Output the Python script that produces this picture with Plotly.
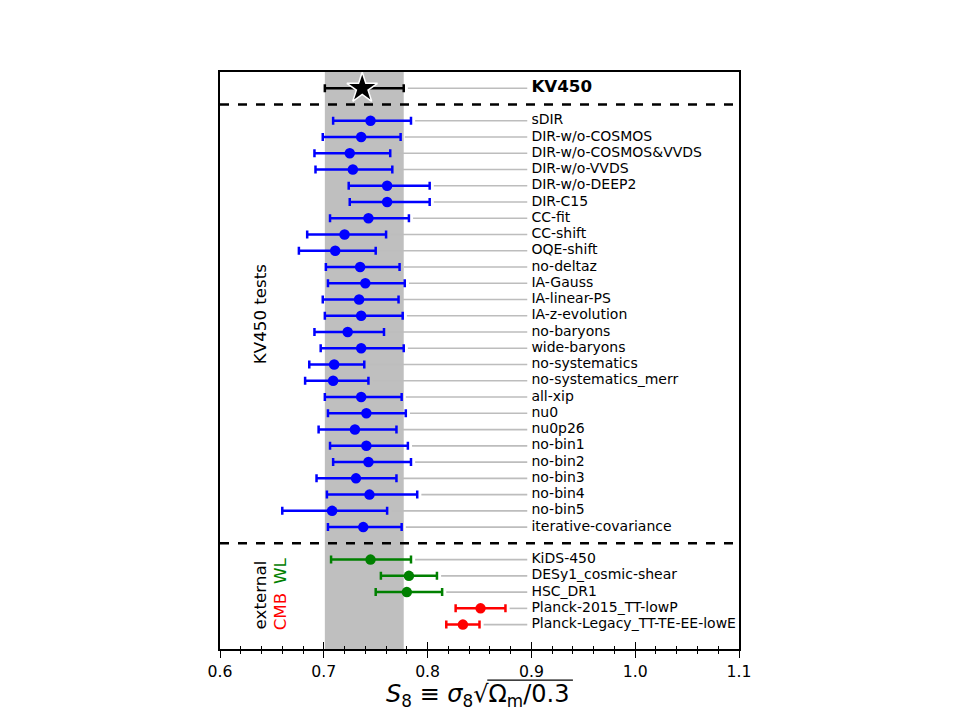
import plotly.graph_objects as go

# ---------------- data ----------------
ref_label = "KV450"
ref_s8 = 0.737
ref_hi = 0.040
ref_lo = 0.036

test_labels = ["sDIR", "DIR-w/o-COSMOS", "DIR-w/o-COSMOS&VVDS", "DIR-w/o-VVDS",
               "DIR-w/o-DEEP2", "DIR-C15", "CC-fit", "CC-shift", "OQE-shift",
               "no-deltaz", "IA-Gauss", "IA-linear-PS", "IA-z-evolution",
               "no-baryons", "wide-baryons", "no-systematics",
               "no-systematics_merr", "all-xip", "nu0", "nu0p26", "no-bin1",
               "no-bin2", "no-bin3", "no-bin4", "no-bin5", "iterative-covariance"]
test_s8 = [0.745, 0.736, 0.725, 0.728, 0.761, 0.761, 0.743, 0.720, 0.711,
           0.735, 0.740, 0.734, 0.736, 0.723, 0.736, 0.710, 0.709, 0.736,
           0.741, 0.730, 0.741, 0.743, 0.731, 0.744, 0.708, 0.738]
test_hi = [0.039, 0.038, 0.039, 0.038, 0.041, 0.041, 0.039, 0.040, 0.039,
           0.038, 0.038, 0.038, 0.040, 0.035, 0.041, 0.029, 0.034, 0.039,
           0.038, 0.040, 0.040, 0.041, 0.039, 0.046, 0.053, 0.037]
test_lo = [0.036, 0.037, 0.034, 0.036, 0.037, 0.036, 0.037, 0.036, 0.035,
           0.033, 0.036, 0.035, 0.035, 0.032, 0.039, 0.024, 0.027, 0.035,
           0.037, 0.035, 0.035, 0.034, 0.038, 0.041, 0.048, 0.034]

ext_labels = ["KiDS-450", "DESy1_cosmic-shear", "HSC_DR1",
              "Planck-2015_TT-lowP", "Planck-Legacy_TT-TE-EE-lowE"]
ext_s8 = [0.745, 0.782, 0.780, 0.851, 0.834]
ext_hi = [0.039, 0.027, 0.034, 0.024, 0.016]
ext_lo = [0.038, 0.027, 0.030, 0.024, 0.016]
ext_colors = ["green", "green", "green", "red", "red"]

# row positions (top to bottom)
ref_y = [0]
test_y = list(range(2, 2 + len(test_labels)))
ext_y = list(range(29, 29 + len(ext_labels)))
sep_y = [1, 28]

label_x = 0.9
line_end = 0.896
gap = 0.004

fig = go.Figure()

# gray connector lines
gx, gy = [], []
for s, h, y in zip([ref_s8] + test_s8 + ext_s8, [ref_hi] + test_hi + ext_hi,
                   ref_y + test_y + ext_y):
    gx += [s + h + gap, line_end, None]
    gy += [y, y, None]
fig.add_trace(go.Scatter(x=gx, y=gy, mode="lines",
                         line=dict(color="#bdbdbd", width=1.6),
                         hoverinfo="skip", showlegend=False))

# KV450
fig.add_trace(go.Scatter(
    x=[ref_s8], y=ref_y, mode="markers",
    marker=dict(symbol="star", size=23, color="black",
                line=dict(color="white", width=1.5)),
    error_x=dict(type="data", array=[ref_hi], arrayminus=[ref_lo],
                 color="black", thickness=2.5, width=4),
    showlegend=False))

# tests
fig.add_trace(go.Scatter(
    x=test_s8, y=test_y, mode="markers",
    marker=dict(symbol="circle", size=10.5, color="blue"),
    error_x=dict(type="data", array=test_hi, arrayminus=test_lo,
                 color="blue", thickness=2.5, width=4),
    showlegend=False))

# external
for s, h, l, y, c in zip(ext_s8, ext_hi, ext_lo, ext_y, ext_colors):
    fig.add_trace(go.Scatter(
        x=[s], y=[y], mode="markers",
        marker=dict(symbol="circle", size=10.5, color=c),
        error_x=dict(type="data", array=[h], arrayminus=[l],
                     color=c, thickness=2.5, width=4),
        showlegend=False))

# labels
fig.add_trace(go.Scatter(
    x=[label_x] * (len(test_labels) + len(ext_labels)),
    y=test_y + ext_y, mode="text", text=test_labels + ext_labels,
    textposition="middle right",
    textfont=dict(family="DejaVu Sans", size=14, color="black"),
    hoverinfo="skip", showlegend=False))
fig.add_trace(go.Scatter(
    x=[label_x], y=ref_y, mode="text", text=["<b>" + ref_label + "</b>"],
    textposition="middle right",
    textfont=dict(family="DejaVu Sans", size=16.7, color="black"),
    hoverinfo="skip", showlegend=False))

# invisible trace for inner-tick axis
fig.add_trace(go.Scatter(x=[0.6], y=[0], xaxis="x2", mode="markers",
                         marker=dict(opacity=0), hoverinfo="skip",
                         showlegend=False))

# gray band (KV450 1-sigma)
fig.add_shape(type="rect", xref="x", yref="paper",
              x0=ref_s8 - ref_lo, x1=ref_s8 + ref_hi, y0=0, y1=1,
              fillcolor="#bfbfbf", line=dict(width=0), layer="below")

# dashed separators
for y in sep_y:
    fig.add_shape(type="line", xref="paper", yref="y", x0=0, x1=1, y0=y, y1=y,
                  line=dict(color="black", width=2.5, dash="dash"))

# side texts
side_font = 16.7
fig.add_annotation(x=0.054, xref="paper", y=13.9, yref="y", text="KV450 tests",
                   textangle=-90, showarrow=False,
                   font=dict(family="DejaVu Sans", size=side_font, color="black"))
fig.add_annotation(x=0.054, xref="paper", y=31.2, yref="y", text="external",
                   textangle=-90, showarrow=False,
                   font=dict(family="DejaVu Sans", size=side_font, color="black"))
fig.add_annotation(x=0.092, xref="paper", y=29.65, yref="y", text="WL",
                   textangle=-90, showarrow=False,
                   font=dict(family="DejaVu Sans", size=side_font, color="green"))
fig.add_annotation(x=0.092, xref="paper", y=32.2, yref="y", text="CMB",
                   textangle=-90, showarrow=False,
                   font=dict(family="DejaVu Sans", size=side_font, color="red"))

# x-axis title with overline for sqrt
fig.add_annotation(x=0.496, xref="paper", y=-0.08, yref="paper", yanchor="middle",
                   text="<i>S</i><sub>8</sub> ≡ <i>σ</i><sub>8</sub>√Ω<sub>m</sub>/0.3",
                   showarrow=False,
                   font=dict(family="DejaVu Sans", size=24, color="black"))
fig.add_shape(type="line", xref="paper", yref="paper",
              x0=0.515, x1=0.68, y0=-0.054, y1=-0.054,
              line=dict(color="black", width=1.2))

fig.update_layout(
    width=960, height=720,
    margin=dict(l=220, r=221, t=72, b=71),
    paper_bgcolor="white", plot_bgcolor="white",
    xaxis=dict(range=[0.6, 1.1], dtick=0.1, tick0=0.6, tickformat=".1f",
               ticks="outside", ticklen=7, tickwidth=1.2, tickcolor="black",
               minor=dict(dtick=0.02, ticks="outside", ticklen=3.5,
                          tickwidth=1, tickcolor="black"),
               showgrid=False, zeroline=False, showline=True, mirror=True,
               linecolor="black", linewidth=1.5,
               tickfont=dict(family="DejaVu Sans", size=15.7, color="black")),
    xaxis2=dict(range=[0.6, 1.1], overlaying="x", matches="x", side="bottom",
                anchor="y", dtick=0.1, tick0=0.6, ticks="inside", ticklen=7,
                tickwidth=1.2, tickcolor="black", showticklabels=False,
                minor=dict(dtick=0.02, ticks="inside", ticklen=3.5,
                           tickwidth=1, tickcolor="black"),
                showgrid=False, zeroline=False, showline=False),
    yaxis=dict(range=[34.5, -1], showticklabels=False, ticks="",
               showgrid=False, zeroline=False, showline=True, mirror=True,
               linecolor="black", linewidth=1.5),
)

fig.write_html("out.html")
